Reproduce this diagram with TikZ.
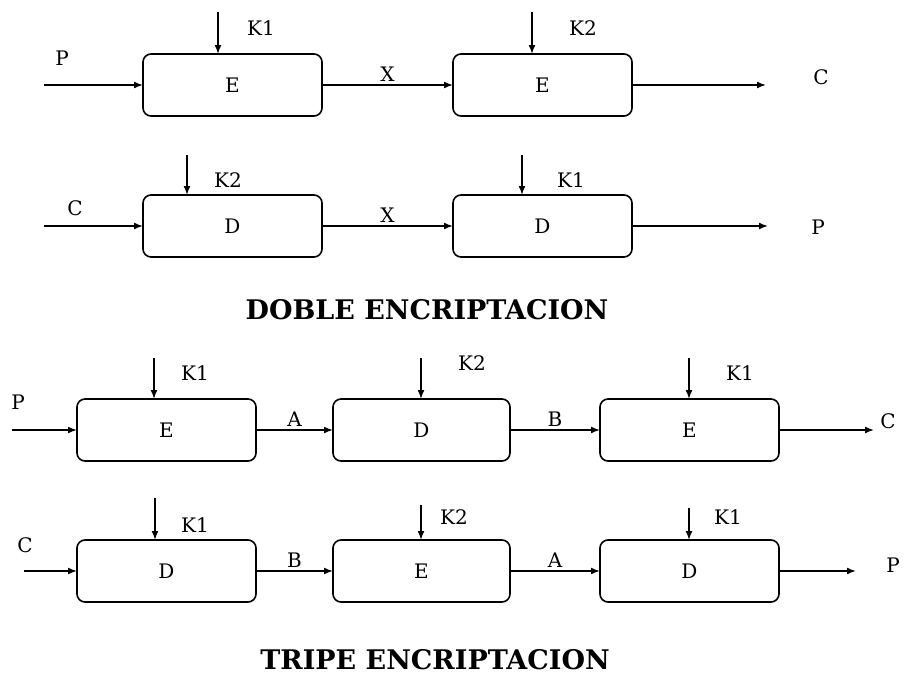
\documentclass[tikz,border=0pt]{standalone}
\usepackage{fontspec}
\setmainfont{DejaVu Serif}
\usetikzlibrary{positioning,arrows.meta}

\begin{document}
\begin{tikzpicture}[
  x=1pt, y=-1pt,
  font=\fontsize{20}{23}\selectfont,
  block/.style={rectangle, rounded corners=8pt, draw=black, line width=1.6pt,
                minimum width=179pt, minimum height=62pt, inner sep=0pt, outer sep=0pt},
  arrow/.style={-{Latex[length=9pt,width=7pt]}, line width=1.6pt},
  keyarr/.style={-{Latex[length=9pt,width=7pt]}, line width=1.6pt},
  lbl/.style={midway, above, inner sep=3pt},
  title/.style={font=\fontsize{27}{31}\selectfont\bfseries},
]
\useasboundingbox (0,0) rectangle (906,675);

% ---- doble encriptacion, first row ----
\node[block] (e1) at (232.5,85) {E};
\node[block] (e2) [right=131pt of e1] {E};
\coordinate (p1) at (44,85);
\coordinate (c1) at (766,85);
\draw[arrow] (p1) -- (e1);
\draw[arrow] (e1) -- node[lbl]{X} (e2);
\draw[arrow] (e2) -- (c1);
\node (lp1) at (62,58) {P};
\node (lc1) at (821,77) {C};
\coordinate (k1) at (218,12);
\coordinate (k2) at (532,12);
\draw[keyarr] (k1) -- (k1 |- e1.north);
\draw[keyarr] (k2) -- (k2 |- e2.north);
\node (lk1) at (261,28) {K1};
\node (lk2) at (583,28) {K2};

% ---- doble encriptacion, second row ----
\node[block] (d1) at (232.5,226) {D};
\node[block] (d2) [right=131pt of d1] {D};
\coordinate (c2) at (44,226);
\coordinate (p2) at (768,226);
\draw[arrow] (c2) -- (d1);
\draw[arrow] (d1) -- node[lbl]{X} (d2);
\draw[arrow] (d2) -- (p2);
\node (lc2) at (75,208) {C};
\node (lp2) at (818,227) {P};
\coordinate (k3) at (187,155);
\coordinate (k4) at (522,155);
\draw[keyarr] (k3) -- (k3 |- d1.north);
\draw[keyarr] (k4) -- (k4 |- d2.north);
\node (lk3) at (228,180) {K2};
\node (lk4) at (571,180) {K1};

\node[title] (doble) at (427,310) {DOBLE ENCRIPTACION};

% ---- tripe encriptacion, first row ----
\node[block] (te1) at (166.5,430) {E};
\node[block, minimum width=177pt] (td1) [right=77pt of te1] {D};
\node[block] (te2) [right=90pt of td1] {E};
\coordinate (p3) at (12,430);
\coordinate (c3) at (874,430);
\draw[arrow] (p3) -- (te1);
\draw[arrow] (te1) -- node[lbl]{A} (td1);
\draw[arrow] (td1) -- node[lbl]{B} (te2);
\draw[arrow] (te2) -- (c3);
\node (lp3) at (18,402) {P};
\node (lc3) at (888,421) {C};
\coordinate (k5) at (154,358);
\coordinate (k6) at (421,358);
\coordinate (k7) at (689,358);
\draw[keyarr] (k5) -- (k5 |- te1.north);
\draw[keyarr] (k6) -- (k6 |- td1.north);
\draw[keyarr] (k7) -- (k7 |- te2.north);
\node (lk5) at (195,373) {K1};
\node (lk6) at (472,363) {K2};
\node (lk7) at (740,373) {K1};

% ---- tripe encriptacion, second row ----
\node[block] (td2) at (166.5,571) {D};
\node[block, minimum width=177pt] (te3) [right=77pt of td2] {E};
\node[block] (td3) [right=90pt of te3] {D};
\coordinate (c4) at (24,571);
\coordinate (p4) at (856,571);
\draw[arrow] (c4) -- (td2);
\draw[arrow] (td2) -- node[lbl]{B} (te3);
\draw[arrow] (te3) -- node[lbl]{A} (td3);
\draw[arrow] (td3) -- (p4);
\node (lc4) at (25,545) {C};
\node (lp4) at (893,565) {P};
\coordinate (k8) at (155,498);
\coordinate (k9) at (421,505);
\coordinate (k10) at (689,508);
\draw[keyarr] (k8) -- (k8 |- td2.north);
\draw[keyarr] (k9) -- (k9 |- te3.north);
\draw[keyarr] (k10) -- (k10 |- td3.north);
\node (lk8) at (195,525) {K1};
\node (lk9) at (454,517) {K2};
\node (lk10) at (728,517) {K1};

\node[title] (tripe) at (435,660) {TRIPE ENCRIPTACION};

\end{tikzpicture}
\end{document}
